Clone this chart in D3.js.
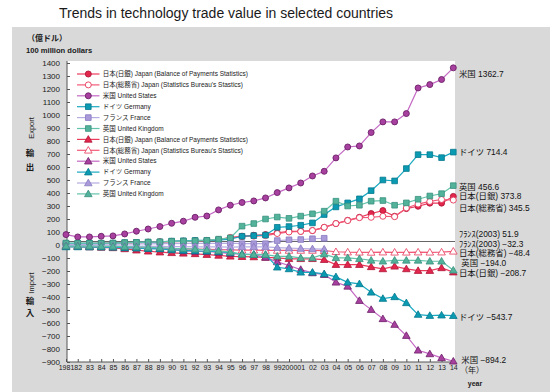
<!DOCTYPE html>
<html><head><meta charset="utf-8">
<script src="https://cdn.jsdelivr.net/npm/d3@7"></script>
<style>body{margin:0;background:#fff}svg{display:block}text{font-family:"Liberation Sans",Arial,"Noto Sans CJK JP",sans-serif}</style>
</head><body><svg id="c" width="558" height="392"></svg>
<script>
// ---- data ----
const categories = ["1981","82","83","84","85","86","87","88","89","90","91","92","93","94","95","96","97","98","99","2000","01","02","03","04","05","06","07","08","09","10","11","12","13","14"];
const yTickValues = [-900,-800,-700,-600,-500,-400,-300,-200,-100,0,100,200,300,400,500,600,700,800,900,1000,1100,1200,1300,1400];

const jpBopExp = [10,11,12,13,14,16,19,22,25,28,30,33,36,42,55,68,75,80,93,105,105,111,136,165,190,213,242,265,221,280,298,322,322,373.8];
const jpSbExp  = [8,9,10,12,13,14,17,20,22,24,27,30,34,40,58,64,68,72,88,100,104,111,136,165,188,210,213,221,218,285,315,335,350,345.5];
const usExp    = [80,62,62,67,70,85,106,123,142,167,183,213,223,270,306,327,339,362,403,439,477,531,567,670,754,762,865,947,947,1011,1208,1234,1273,1362.7];
const deExp    = [12,12,13,13,14,18,20,22,24,30,32,35,35,38,45,67,72,76,136,142,152,170,234,293,324,355,418,500,493,588,695,695,672,714.4];
const frExp    = [5,5,5,6,6,7,8,9,10,11,12,12,12,13,14,10,10,10,34,40,42,48,51.9,null,null,null,null,null,null,null,null,null,null,null];
const gbExp    = [15,14,14,14,15,18,20,22,24,28,30,32,35,45,55,145,165,200,215,205,222,240,260,337,300,306,337,342,306,324,352,377,395,456.6];

const jpBopImp = [-10,-12,-15,-18,-22,-30,-40,-48,-55,-60,-64,-68,-74,-80,-87,-90,-92,-95,-99,-106,-106,-106,-113,-151,-151,-151,-168,-184,-164,-184,-197,-197,-176,-208.7];
const jpSbImp  = [-12,-13,-14,-15,-16,-18,-20,-22,-25,-28,-30,-32,-33,-35,-38,-40,-40,-42,-42,-42,-42,-42,-44,-52,-55,-56,-57,-55,-56,-56,-55,-56,-55,-48.4];
const usImp    = [-7,-8,-9,-12,-13,-17,-20,-26,-28,-31,-46,-50,-50,-57,-66,-70,-75,-95,-130,-158,-189,-215,-228,-287,-318,-428,-497,-568,-612,-697,-810,-838,-868,-894.2];
const deImp    = [-15,-15,-16,-17,-18,-22,-25,-28,-30,-38,-42,-45,-48,-52,-58,-70,-72,-74,-171,-184,-210,-210,-222,-245,-287,-299,-364,-412,-399,-445,-535,-543,-540,-543.7];
const frImp    = [-5,-5,-6,-6,-7,-8,-9,-10,-11,-12,-13,-14,-14,-15,-16,-14,-14,-15,-20,-24,-27,-30,-32.3,null,null,null,null,null,null,null,null,null,null,null];
const gbImp    = [-8,-8,-9,-10,-11,-13,-15,-18,-20,-25,-28,-32,-38,-45,-55,-72,-74,-74,-87,-87,-99,-99,-70,-99,-99,-106,-118,-125,-118,-118,-118,-125,-125,-194];

const legendNames = ["日本(日銀) Japan (Balance of Payments Statistics)","日本(総務省) Japan (Statistics Bureau's Stastics)","米国 United States","ドイツ Germany","フランス France","英国 United Kingdom"];
const endLabelTexts = ["米国 1362.7","ドイツ 714.4","英国 456.6","日本(日銀) 373.8","日本(総務省) 345.5","ﾌﾗﾝｽ(2003) 51.9","ﾌﾗﾝｽ(2003) −32.3","日本(総務省) −48.4"," 英国 −194.0","日本(日銀) −208.7","ドイツ −543.7"," 米国 −894.2"];
const endLabelSeries = [usExp,deExp,gbExp,jpBopExp,jpSbExp,frExp,frImp,jpSbImp,gbImp,jpBopImp,deImp,usImp];

// ---- styles ----
const seriesStyle = [
  {line:"#EC3A5C", fill:"#E3264C", stroke:"#B0183A"},
  {line:"#F25A78", fill:"#ffffff", stroke:"#E8385A"},
  {line:"#C468C4", fill:"#A8409F", stroke:"#6C2068"},
  {line:"#1AA8C0", fill:"#0A9AB2", stroke:"#06788E"},
  {line:"#B6ACE2", fill:"#A99ADA", stroke:"#8878C0"},
  {line:"#62C2AA", fill:"#52B29A", stroke:"#3A9080"}
];
const endLabelNudge = [6,0,1,0,7.5,-4,-5,2,-7,0.5,1,-1];

const series = [
  {v:jpBopExp,s:0,m:"circle"},{v:jpSbExp,s:1,m:"circle"},{v:usExp,s:2,m:"circle"},
  {v:deExp,s:3,m:"square"},{v:frExp,s:4,m:"square"},{v:gbExp,s:5,m:"square"},
  {v:jpBopImp,s:0,m:"triangle"},{v:jpSbImp,s:1,m:"triangle"},{v:usImp,s:2,m:"triangle"},
  {v:deImp,s:3,m:"triangle"},{v:frImp,s:4,m:"triangle"},{v:gbImp,s:5,m:"triangle"}
];

const svg = d3.select("#c");
const W=558,H=392;
const plot = {l:67, r:455, t:61, b:362};

// background
svg.append("rect").attr("width",W).attr("height",H).attr("fill","#fff");
svg.append("rect").attr("x",12).attr("y",27).attr("width",538).attr("height",H-27).attr("fill","#D9D9D9");
svg.append("rect").attr("x",plot.l).attr("y",plot.t).attr("width",plot.r-plot.l).attr("height",plot.b-plot.t).attr("fill","#fff");

// title
svg.append("text").attr("x",226).attr("y",18).attr("text-anchor","middle")
  .attr("font-size",14).attr("fill","#1a1a1a").text("Trends in technology trade value in selected countries");

const x = d3.scalePoint().domain(categories).range([66,453.3]);
const y = d3.scaleLinear().domain([-900,1400]).range([362,63]);

// y axis
const yAxis = svg.append("g").attr("transform",`translate(${plot.l},0)`)
  .call(d3.axisLeft(y).tickValues(yTickValues).tickFormat(d3.format("d")).tickSizeInner(-3).tickSizeOuter(0).tickPadding(7));
yAxis.select(".domain").remove();
yAxis.selectAll("line").attr("stroke","#555");
yAxis.selectAll("text").attr("font-size",8).attr("fill","#1a1a1a")
  .attr("font-family","'Liberation Sans',Arial,sans-serif");

// x axis
const xAxis = svg.append("g").attr("transform",`translate(0,${plot.b})`)
  .call(d3.axisBottom(x).tickSizeInner(-3).tickSizeOuter(0).tickPadding(3));
xAxis.select(".domain").remove();
xAxis.selectAll("line").attr("stroke","#555");
xAxis.selectAll("text").attr("font-size",7).attr("fill","#1a1a1a")
  .attr("font-family","'Liberation Sans',Arial,sans-serif");

// frame lines
svg.append("line").attr("x1",plot.l).attr("x2",plot.l).attr("y1",plot.t).attr("y2",plot.b).attr("stroke","#555");
svg.append("line").attr("x1",plot.l).attr("x2",plot.r).attr("y1",plot.b).attr("y2",plot.b).attr("stroke","#555");
// horizontal base line
svg.append("line").attr("x1",plot.l).attr("x2",plot.r).attr("y1",Math.round(y(30))+0.5).attr("y2",Math.round(y(30))+0.5).attr("stroke","#666").attr("stroke-width",1);

// axis titles
const at = svg.append("g").attr("fill","#1a1a1a");
at.append("text").attr("x",27).attr("y",41).attr("font-size",8).attr("font-weight","bold").text("（億ドル）");
at.append("text").attr("x",26).attr("y",53).attr("font-size",7.6).attr("font-weight","bold").text("100 million dollars");
at.append("text").attr("transform","translate(33.5,128) rotate(-90)").attr("text-anchor","middle").attr("font-size",7.5).text("Export");
at.append("text").attr("x",30).attr("y",156).attr("text-anchor","middle").attr("font-size",8.5).attr("font-weight","bold").text("輸");
at.append("text").attr("x",30).attr("y",170).attr("text-anchor","middle").attr("font-size",8.5).attr("font-weight","bold").text("出");
at.append("text").attr("transform","translate(33.5,283) rotate(-90)").attr("text-anchor","middle").attr("font-size",7.5).text("Import");
at.append("text").attr("x",30).attr("y",304).attr("text-anchor","middle").attr("font-size",8.5).attr("font-weight","bold").text("輸");
at.append("text").attr("x",30).attr("y",316).attr("text-anchor","middle").attr("font-size",8.5).attr("font-weight","bold").text("入");
at.append("text").attr("x",472).attr("y",373).attr("text-anchor","middle").attr("font-size",8).text("（年）");
at.append("text").attr("x",475).attr("y",386).attr("text-anchor","middle").attr("font-size",7).attr("font-weight","bold").text("year");

// markers
function marker(g, type, st, cx, cy){
  if(type==="circle"){
    g.append("circle").attr("cx",cx).attr("cy",cy).attr("r",3).attr("fill",st.fill).attr("stroke",st.stroke).attr("stroke-width",0.9);
  } else {
    const sym = type==="square" ? d3.symbolSquare : d3.symbolTriangle;
    const size = type==="square" ? 32 : 25;
    g.append("path").attr("d",d3.symbol(sym,size)()).attr("transform",`translate(${cx},${cy+(type==="triangle"?0.6:0)})`)
      .attr("fill",st.fill).attr("stroke",st.stroke).attr("stroke-width",0.8);
  }
}

// legend
const lg = svg.append("g");
series.forEach((sr,i)=>{
  const st = seriesStyle[sr.s];
  const ly = 74 + i*10.9;
  lg.append("line").attr("x1",77).attr("x2",99.5).attr("y1",ly).attr("y2",ly).attr("stroke",st.line).attr("stroke-width",1.2);
  marker(lg, sr.m, st, 88.3, ly);
  lg.append("text").attr("x",102.7).attr("y",ly+2.2).attr("font-size",6.5).attr("fill","#222").text(legendNames[sr.s]);
});

// series
const line = d3.line().defined(d=>d.v!=null).x(d=>x(d.c)).y(d=>y(d.v));
const sg = svg.append("g");
series.forEach(sr=>{
  const st = seriesStyle[sr.s];
  const pts = sr.v.map((v,i)=>({c:categories[i],v}));
  const g = sg.append("g");
  g.append("path").attr("d",line(pts)).attr("fill","none").attr("stroke",st.line).attr("stroke-width",1.2);
  pts.filter(p=>p.v!=null).forEach(p=>marker(g, sr.m, st, x(p.c), y(p.v)));
});

// end labels
const el = svg.append("g").attr("font-size",8.4).attr("fill","#111");
endLabelTexts.forEach((t,i)=>{
  const vals = endLabelSeries[i].filter(v=>v!=null);
  const last = vals[vals.length-1];
  el.append("text").attr("x",459).attr("y",y(last)+endLabelNudge[i]+3).attr("xml:space","preserve").text(t);
});
</script></body></html>
